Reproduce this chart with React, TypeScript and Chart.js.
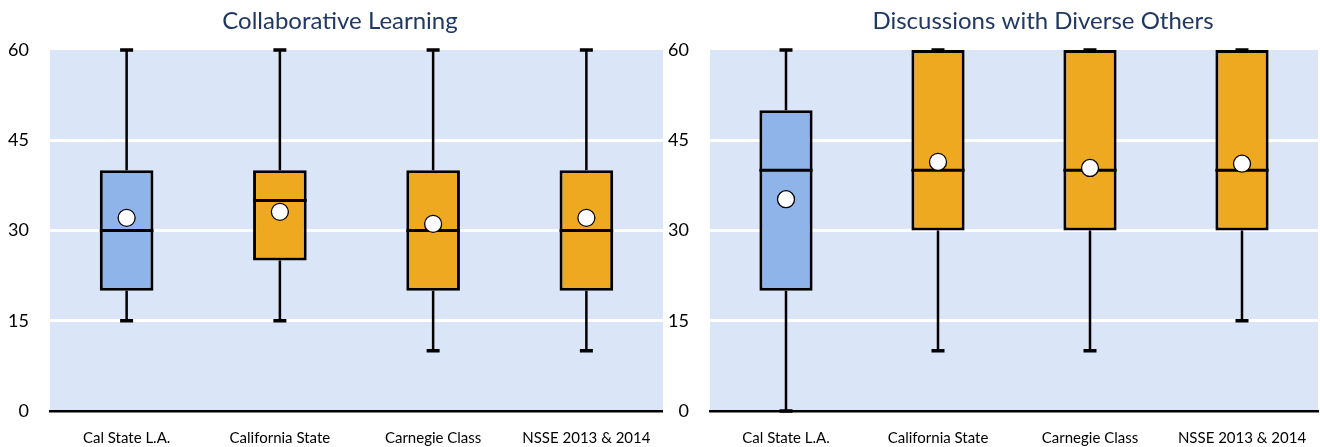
import React, { useEffect, useRef } from "react";
import { Chart, registerables } from "chart.js";

Chart.register(...registerables);

const categories = ["Cal State L.A.", "California State", "Carnegie Class", "NSSE 2013 & 2014"];
const yTickValues = [0, 15, 30, 45, 60];

const collabMin = [15, 15, 10, 10];
const collabQ1 = [20, 25, 20, 20];
const collabMedian = [30, 35, 30, 30];
const collabQ3 = [40, 40, 40, 40];
const collabMax = [60, 60, 60, 60];
const collabMean = [32.1, 33.1, 31.1, 32.1];

const diverseMin = [0, 10, 10, 15];
const diverseQ1 = [20, 30, 30, 30];
const diverseMedian = [40, 40, 40, 40];
const diverseQ3 = [50, 60, 60, 60];
const diverseMax = [60, 60, 60, 60];
const diverseMean = [35.2, 41.4, 40.4, 41.1];

const boxColors = ["#8EB4E9", "#EEA921", "#EEA921", "#EEA921"];

const PLOT_BG = "#DAE5F7";
const TITLE_COLOR = "#1F3864";
const FONT = "Lato, 'Open Sans', sans-serif";

type Panel = {
  title: string;
  min: number[];
  q1: number[];
  median: number[];
  q3: number[];
  max: number[];
  mean: number[];
  titleX: number;
  padRight: number;
};

function makeChart(canvas: HTMLCanvasElement, p: Panel) {
  const boxPlugin = {
    id: "boxParts",
    beforeDraw(chart: any) {
      const { ctx, chartArea } = chart;
      ctx.save();
      ctx.fillStyle = PLOT_BG;
      ctx.fillRect(chartArea.left, chartArea.top, chartArea.right - chartArea.left, chartArea.bottom - chartArea.top);
      ctx.restore();
    },
    beforeDatasetsDraw(chart: any) {
      const { ctx } = chart;
      const x = chart.scales.x;
      const y = chart.scales.y;
      ctx.save();
      ctx.strokeStyle = "#000";
      for (let i = 0; i < categories.length; i++) {
        const cx = x.getPixelForValue(i);
        ctx.lineWidth = 2.5;
        ctx.beginPath();
        ctx.moveTo(cx, y.getPixelForValue(p.min[i]));
        ctx.lineTo(cx, y.getPixelForValue(p.q1[i]));
        ctx.moveTo(cx, y.getPixelForValue(p.q3[i]));
        ctx.lineTo(cx, y.getPixelForValue(p.max[i]));
        ctx.stroke();
        ctx.lineWidth = 3.5;
        ctx.beginPath();
        for (const v of [p.min[i], p.max[i]]) {
          const py = y.getPixelForValue(v);
          ctx.moveTo(cx - 6.5, py);
          ctx.lineTo(cx + 6.5, py);
        }
        ctx.stroke();
      }
      ctx.restore();
    },
    afterDatasetDraw(chart: any, args: any) {
      if (args.index !== 0) return;
      const { ctx } = chart;
      const y = chart.scales.y;
      const meta = chart.getDatasetMeta(0);
      ctx.save();
      ctx.strokeStyle = "#000";
      ctx.lineWidth = 3;
      meta.data.forEach((bar: any, i: number) => {
        const py = y.getPixelForValue(p.median[i]);
        ctx.beginPath();
        ctx.moveTo(bar.x - bar.width / 2, py);
        ctx.lineTo(bar.x + bar.width / 2, py);
        ctx.stroke();
      });
      ctx.restore();
    },
    afterDraw(chart: any) {
      const { ctx } = chart;
      ctx.save();
      ctx.fillStyle = TITLE_COLOR;
      ctx.font = `normal 24px ${FONT}`;
      ctx.textAlign = "center";
      ctx.textBaseline = "middle";
      ctx.fillText(p.title, p.titleX, 21);
      ctx.restore();
    },
  };

  return new Chart(canvas, {
    type: "bar",
    data: {
      labels: categories,
      datasets: [
        {
          type: "bar",
          data: categories.map((_, i) => [p.q1[i], p.q3[i]]) as any,
          backgroundColor: boxColors,
          borderColor: "#000",
          borderWidth: 3,
          borderSkipped: false,
          barPercentage: 0.35,
          categoryPercentage: 1,
          order: 2,
          clip: false as any,
        },
        {
          type: "line",
          data: p.mean,
          showLine: false,
          pointRadius: 8.5,
          pointBackgroundColor: "#FFFFFF",
          pointBorderColor: "#000",
          pointBorderWidth: 1.3,
          order: 1,
          clip: false as any,
        } as any,
      ],
    },
    options: {
      responsive: false,
      animation: false,
      events: [],
      layout: { autoPadding: false, padding: { left: 0, right: p.padRight, top: 50, bottom: 0 } },
      plugins: {
        legend: { display: false },
        tooltip: { enabled: false },
        title: { display: false },
      },
      scales: {
        x: {
          type: "category",
          offset: true,
          grid: { display: false, drawTicks: false },
          border: { display: true, color: "#000", width: 2.5 },
          ticks: {
            color: "#000",
            font: { family: FONT, size: 15, lineHeight: 3.6 },
            padding: 0,
            maxRotation: 0,
            autoSkip: false,
          },
          afterFit(scale: any) {
            scale.height = 36;
            scale.paddingLeft = 0;
            scale.paddingRight = 0;
          },
        },
        y: {
          type: "linear",
          min: 0,
          max: 60,
          afterBuildTicks(scale: any) {
            scale.ticks = yTickValues.map((v) => ({ value: v }));
          },
          grid: {
            drawTicks: false,
            lineWidth: 3,
            color: (c: any) => (c.tick && (c.tick.value === 0 || c.tick.value === 60) ? "rgba(0,0,0,0)" : "#FFFFFF"),
          },
          border: { display: false },
          ticks: {
            color: "#000",
            font: { family: FONT, size: 18 },
            padding: 21,
          },
          afterFit(scale: any) {
            scale.width = 50;
            scale.paddingTop = 0;
            scale.paddingBottom = 0;
          },
        },
      },
    },
    plugins: [boxPlugin],
  });
}

function BoxPanel(props: { panel: Panel; width: number; left: number }) {
  const ref = useRef<HTMLCanvasElement | null>(null);
  useEffect(() => {
    if (!ref.current) return;
    const chart = makeChart(ref.current, props.panel);
    return () => chart.destroy();
  }, []);
  return (
    <canvas
      ref={ref}
      width={props.width}
      height={447}
      style={{ position: "absolute", left: props.left, top: 0, width: props.width, height: 447 }}
    />
  );
}

const leftPanel: Panel = {
  title: "Collaborative Learning",
  min: collabMin,
  q1: collabQ1,
  median: collabMedian,
  q3: collabQ3,
  max: collabMax,
  mean: collabMean,
  titleX: 340,
  padRight: 0,
};

const rightPanel: Panel = {
  title: "Discussions with Diverse Others",
  min: diverseMin,
  q1: diverseQ1,
  median: diverseMedian,
  q3: diverseQ3,
  max: diverseMax,
  mean: diverseMean,
  titleX: 383,
  padRight: 2,
};

export default function App() {
  return (
    <div style={{ position: "absolute", left: 0, top: 0, width: 1320, height: 447, background: "#fff" }}>
      <BoxPanel panel={leftPanel} width={663} left={0} />
      <BoxPanel panel={rightPanel} width={660} left={660} />
    </div>
  );
}
